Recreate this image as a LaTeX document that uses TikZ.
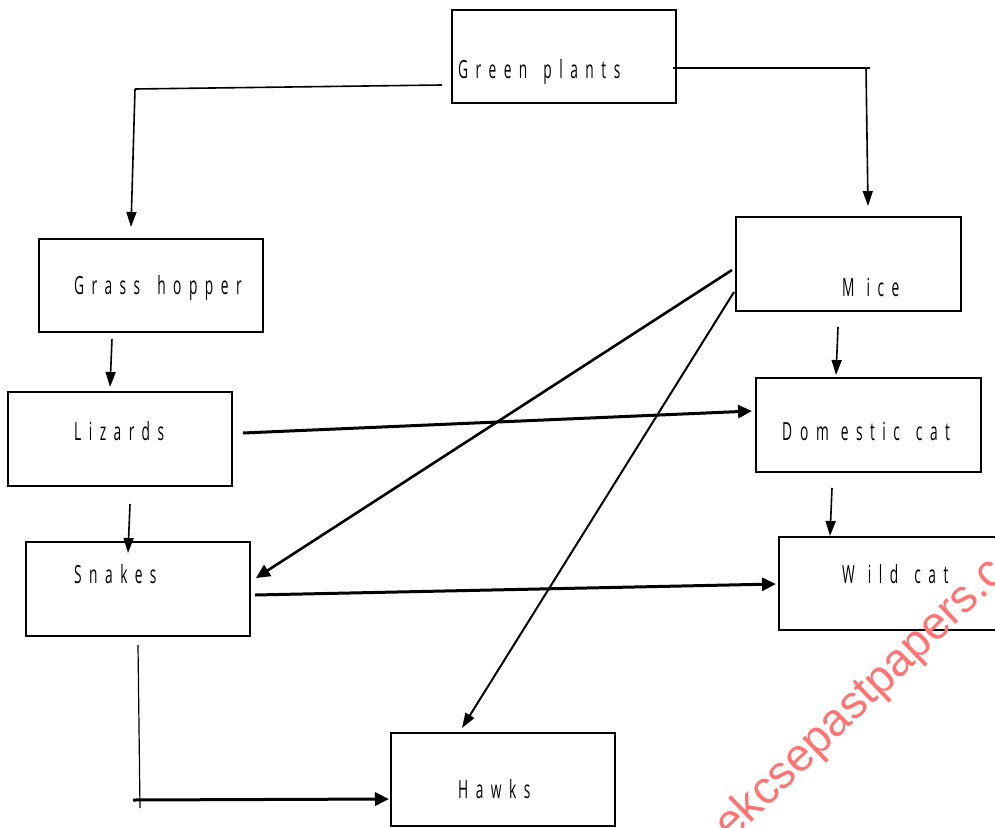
\documentclass[tikz,border=0pt]{standalone}
\usepackage{fontspec}
\setmainfont{Open Sans}[FakeStretch=0.55]
\newfontfamily\wmfont{Liberation Sans}
\usetikzlibrary{arrows.meta}
\newcommand\wgap[1]{\hbox to #1{\hfil}}
\begin{document}
\begin{tikzpicture}[x=1pt,y=-1pt,
  box/.style={draw,line width=1.8pt,rectangle,inner sep=0pt},
  lbl/.style={anchor=west,inner sep=0pt,font=\fontsize{25}{30}\selectfont\addfontfeature{LetterSpace=30}},
  thin/.style={line width=1.6pt,-{Triangle[length=15pt,width=10pt]}},
  thick/.style={line width=3pt,-{Triangle[length=14pt,width=13pt]}},
  plain/.style={line width=1.6pt},
  wm/.style={text=red!55,font=\wmfont\fontsize{46}{46}\selectfont,rotate=44,anchor=base west,inner sep=0pt}]
\useasboundingbox (0,0) rectangle (995,827);
\clip (0,0) rectangle (995,827);
% boxes
\draw[box] (452,10) rectangle (676,103) node[pos=0.5] (gp) {};
\draw[box] (39,239) rectangle (263,332) node[pos=0.5] (gh) {};
\draw[box] (8,392) rectangle (232,486) node[pos=0.5] (lz) {};
\draw[box] (26,542) rectangle (250,636) node[pos=0.5] (sn) {};
\draw[box] (391,733) rectangle (615,826) node[pos=0.5] (hw) {};
\draw[box] (736,217) rectangle (961,311) node[pos=0.5] (mc) {};
\draw[box] (756,378) rectangle (981,472) node[pos=0.5] (dc) {};
\draw[box] (779,537) rectangle (1010,630) node[pos=0.5] (wc) {};
% labels
\node[lbl] (gpt) at (458,72) {Green\wgap{16pt}plants};
\node[lbl] (ght) at (74,288) {Grass\wgap{17pt}hopper};
\node[lbl] (lzt) at (74,431) {Lizards};
\node[lbl] (snt) at (74,574) {Snakes};
\node[lbl] (hwt) at (458,789) {Hawks};
\node[lbl] (mct) at (842,287) {M\wgap{12pt}ice};
\node[lbl] (dct) at (782,431) {D\wgap{8pt}om\wgap{12pt}estic\wgap{16pt}cat};
\node[lbl] (wct) at (842,574) {W\wgap{13pt}ild\wgap{16pt}cat};
% connector points
\coordinate (a1) at (442,85);
\coordinate (a2) at (135,89);
\coordinate (a3) at (131,227);
\coordinate (b1) at (673,68);
\coordinate (b2) at (870,68);
\coordinate (b3) at (866,68);
\coordinate (b4) at (868,206);
\coordinate (c1) at (112,339);
\coordinate (c2) at (110,387);
\coordinate (d1) at (838,327);
\coordinate (d2) at (836,375);
\coordinate (e1) at (832,488);
\coordinate (e2) at (830,536);
\coordinate (f1) at (130,504);
\coordinate (f2) at (128,553);
\coordinate (g1) at (243,433);
\coordinate (g2) at (752,411);
\coordinate (h1) at (255,595);
\coordinate (h2) at (776,584);
\coordinate (i1) at (732,270);
\coordinate (i2) at (256,578);
\coordinate (j1) at (734,292);
\coordinate (j2) at (462,728);
\coordinate (k1) at (138,645);
\coordinate (k2) at (140,808);
\coordinate (k3) at (133,800);
\coordinate (k4) at (389,799);
% connectors
\draw[plain] (a1) -- (a2);
\draw[thin] (a2) -- (a3);
\draw[plain] (b1) -- (b2);
\draw[thin] (b3) -- (b4);
\draw[thin] (c1) -- (c2);
\draw[thin] (d1) -- (d2);
\draw[thin] (e1) -- (e2);
\draw[thin] (f1) -- (f2);
\draw[thick] (g1) -- (g2);
\draw[thick] (h1) -- (h2);
\draw[thick,line width=2.6pt] (i1) -- (i2);
\draw[thin,line width=2pt] (j1) -- (j2);
\draw[line width=1.2pt] (k1) -- (k2);
\draw[thick] (k3) -- (k4);
% watermark
\node[wm] (wmk) at (731,842) {ekcsepastpapers.com};
\end{tikzpicture}
\end{document}
